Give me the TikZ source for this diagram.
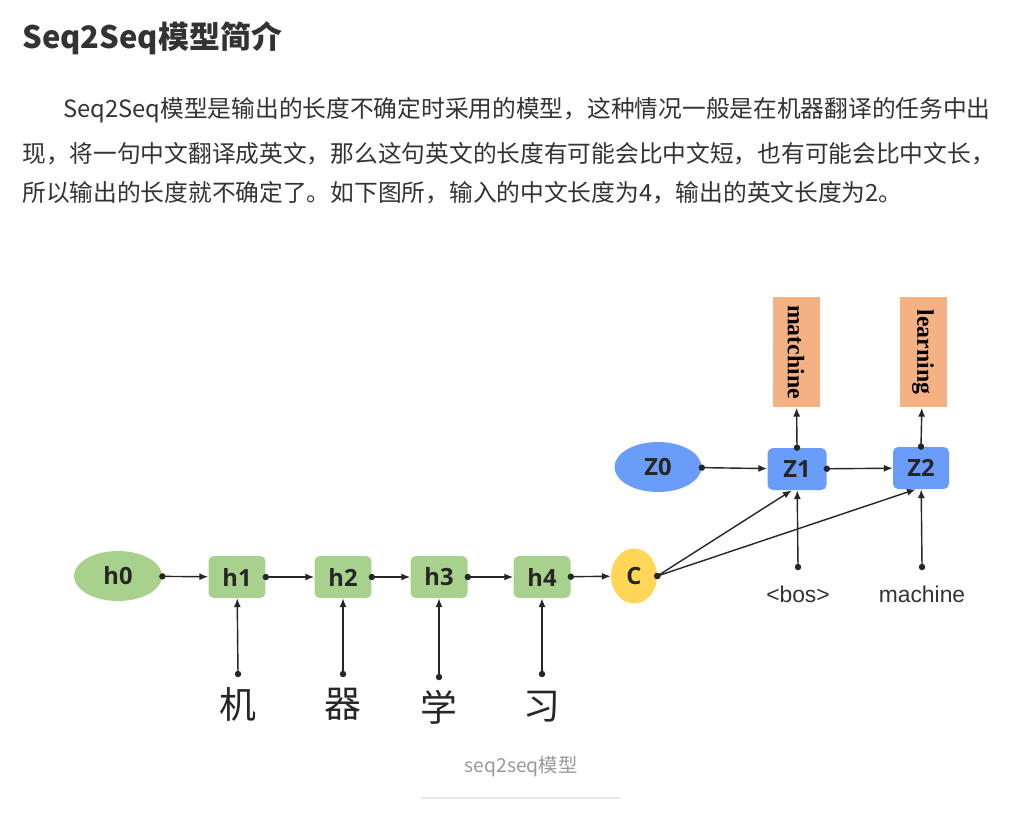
\documentclass[tikz,border=0pt]{standalone}
\usepackage{fontspec}
\setmainfont{Noto Sans CJK SC}
\newfontfamily\lblfont{Open Sans}
\newfontfamily\wordfont{Liberation Serif}
\newfontfamily\tokfont{Liberation Sans}
\usetikzlibrary{arrows.meta,shapes.geometric}
\definecolor{hgreen}{HTML}{A9D18E}
\definecolor{zblue}{HTML}{6A9CFA}
\definecolor{cyellow}{HTML}{FFD658}
\definecolor{outorange}{HTML}{F4B183}
\definecolor{bodytext}{HTML}{333333}
\definecolor{captext}{HTML}{9A9A9A}
\definecolor{rulecol}{HTML}{E8E8E8}
\tikzset{
  hbox/.style={fill=hgreen,rounded corners=3pt,minimum width=1.14cm,minimum height=.84cm,inner sep=0pt,font=\lblfont\bfseries\fontsize{13.5}{14}\selectfont,text=black!85},
  zbox/.style={fill=zblue,rounded corners=3pt,minimum width=1.18cm,minimum height=.84cm,inner sep=0pt,font=\lblfont\bfseries\fontsize{13.5}{14}\selectfont,text=black!85},
  blob/.style={ellipse,inner sep=0pt,font=\lblfont\bfseries\fontsize{13.5}{14}\selectfont,text=black!85},
  outbox/.style={fill=outorange,minimum width=.94cm,minimum height=2.22cm,inner sep=0pt,font=\wordfont\bfseries\fontsize{13.5}{14}\selectfont},
  charlbl/.style={font=\fontsize{21}{21}\selectfont,text=black!85,inner sep=0pt},
  toklbl/.style={font=\tokfont\fontsize{13}{13}\selectfont,text=black!80,inner sep=0pt},
  para/.style={anchor=west,inner sep=0pt,text=bodytext,font=\fontsize{13.5}{14}\selectfont},
  flow/.style={{Circle[length=3.6pt]}-{Latex[length=5pt,width=4pt]},line width=.8pt,draw=black!85,shorten <=-1.8pt}
}

\begin{document}
\begin{tikzpicture}[x=.02cm,y=-.02cm]
% page frame
\useasboundingbox[fill=white] (0,0) rectangle (1024,818);

% heading and text
\node[anchor=west,inner sep=0pt,text=bodytext,font=\fontsize{17.6}{18}\selectfont\bfseries] (title) at (22,38) {Seq2Seq模型简介};
\node[para] (line1) at (63,110) {Seq2Seq模型是输出的长度不确定时采用的模型，这种情况一般是在机器翻译的任务中出};
\node[para] (line2) at (22,154) {现，将一句中文翻译成英文，那么这句英文的长度有可能会比中文短，也有可能会比中文长，};
\node[para] (line3) at (22,193) {所以输出的长度就不确定了。如下图所，输入的中文长度为4，输出的英文长度为2。};

% encoder
\node[blob,fill=hgreen,minimum width=1.76cm,minimum height=1cm] (h0) at (118,576) {h0};
\node[hbox] (h1) at (237,577) {h1};
\node[hbox] (h2) at (343,577) {h2};
\node[hbox] (h3) at (439,577) {h3};
\node[hbox] (h4) at (542,577) {h4};
\node[blob,fill=cyellow,minimum width=.92cm,minimum height=1.1cm] (c) at (634,576) {C};

\node[charlbl] (w1) at (238,704) {机};
\node[charlbl] (w2) at (343,704) {器};
\node[charlbl] (w3) at (439,707) {学};
\node[charlbl] (w4) at (542,707) {习};
\coordinate (p1) at (238,674);
\coordinate (p2) at (343,674);
\coordinate (p3) at (439,677);
\coordinate (p4) at (542,674);

% decoder
\node[blob,fill=zblue,minimum width=1.74cm,minimum height=1cm] (z0) at (658,467) {Z0};
\node[zbox] (z1) at (797,469) {Z1};
\node[zbox,minimum width=1.12cm] (z2) at (921,468) {Z2};
\node[outbox] (o1) at (796,352) {\rotatebox{-90}{matchine}};
\node[outbox] (o2) at (923,352) {\rotatebox{-90}{learning}};
\node[toklbl] (bos) at (798,594) {<bos>};
\node[toklbl] (mach) at (922,594) {machine};
\coordinate (q1) at (798,567);
\coordinate (q2) at (922,567);

\draw[flow] (h0) -- (h1);
\draw[flow] (h1) -- (h2);
\draw[flow] (h2) -- (h3);
\draw[flow] (h3) -- (h4);
\draw[flow] (h4) -- (c);
\draw[flow] (p1) -- (h1);
\draw[flow] (p2) -- (h2);
\draw[flow] (p3) -- (h3);
\draw[flow] (p4) -- (h4);

\draw[flow] (z0) -- (z1);
\draw[flow] (z1) -- (z2);
\draw[flow] (z1.north) -- (o1);
\draw[flow] (z2.north) -- (o2);
\draw[flow] (c.east) -- ([xshift=-3pt]z1.south);
\draw[flow] (c.east) -- ([xshift=-3pt]z2.south);
\draw[flow] (q1) -- (z1);
\draw[flow] (q2) -- (z2);

% caption
\node[inner sep=0pt,text=captext,font=\fontsize{11}{11}\selectfont] (cap) at (521,767) {seq2seq模型};
\draw[rulecol,line width=.6pt] (421,798) -- (620,798);
\end{tikzpicture}
\end{document}
